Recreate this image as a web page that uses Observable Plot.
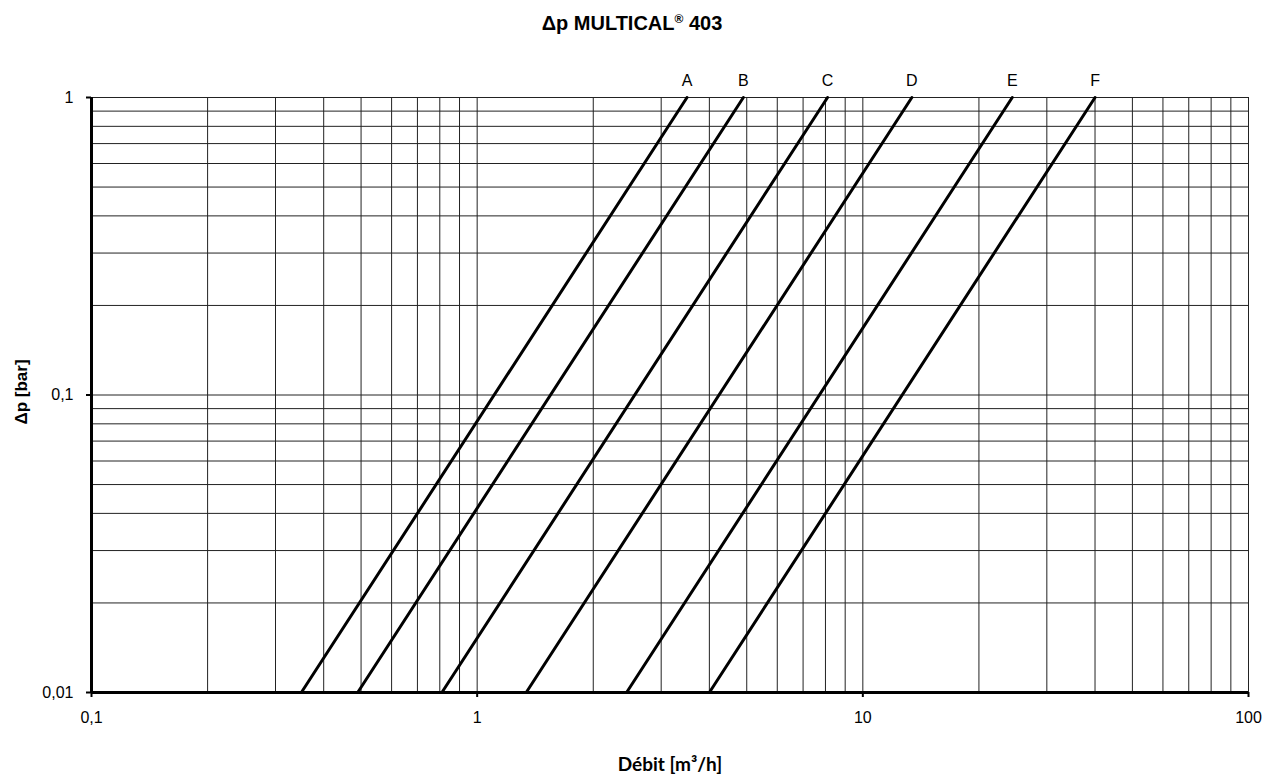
<!DOCTYPE html>
<html>
<head>
<meta charset="utf-8">
<script src="https://cdn.jsdelivr.net/npm/d3@7"></script>
<script src="https://cdn.jsdelivr.net/npm/@observablehq/plot@0.6"></script>
<style>
  html, body { margin: 0; padding: 0; background: #fff; }
  #title { width: 1264px; height: 50px; line-height: 46px; text-align: center;
           font-family: "Liberation Sans", Arial, sans-serif; font-weight: bold; font-size: 20px; color: #000; }
  #title sup { font-size: 12px; vertical-align: 7px; line-height: 0; }
  #chart svg { display: block; }
</style>
</head>
<body>
<div id="title">Δp MULTICAL<sup>®</sup> 403</div>
<div id="chart"></div>
<script>
// Curve names and flow (m³/h) read at 0,01 bar and at 1 bar
const curves = ["A", "B", "C", "D", "E", "F"];
const qLow  = [0.35, 0.49, 0.81, 1.34, 2.44, 4.0];
const qHigh = [3.5, 4.9, 8.1, 13.4, 24.4, 40];
const pLow = 0.01;
const pHigh = 1;

const xTicks = [0.1, 1, 10, 100];
const yTicks = [0.01, 0.1, 1];
const xGrid = [0.2, 0.3, 0.4, 0.5, 0.6, 0.7, 0.8, 0.9, 1, 2, 3, 4, 5, 6, 7, 8, 9, 10, 20, 30, 40, 50, 60, 70, 80, 90, 100];
const yGrid = [0.02, 0.03, 0.04, 0.05, 0.06, 0.07, 0.08, 0.09, 0.1, 0.2, 0.3, 0.4, 0.5, 0.6, 0.7, 0.8, 0.9, 1];

const xLabel = "Débit [m³/h]";
const yLabel = "Δp [bar]";

const lineData = curves.flatMap((c, i) => [
  {curve: c, q: qLow[i], p: pLow},
  {curve: c, q: qHigh[i], p: pHigh}
]);
const labelData = curves.map((c, i) => ({curve: c, q: qHigh[i], p: pHigh}));

const fmt = d => String(d).replace(".", ",");

const chart = Plot.plot({
  width: 1264,
  height: 724,
  marginLeft: 91,
  marginRight: 16,
  marginTop: 47,
  marginBottom: 82,
  style: {fontFamily: "'Liberation Sans', Arial, sans-serif", fontSize: "16px", color: "#000", background: "#fff"},
  x: {type: "log", domain: [0.1, 100]},
  y: {type: "log", domain: [0.01, 1]},
  marks: [
    Plot.ruleX(xGrid, {stroke: "#222", strokeWidth: 1}),
    Plot.ruleY(yGrid, {stroke: "#222", strokeWidth: 1}),
    Plot.line(lineData, {x: "q", y: "p", z: "curve", stroke: "#000", strokeWidth: 3}),
    Plot.ruleX([xTicks[0]], {stroke: "#000", strokeWidth: 3}),
    Plot.ruleY([yTicks[0]], {stroke: "#000", strokeWidth: 3}),
    Plot.axisX(xTicks, {tickFormat: fmt, tickSize: 5, tickPadding: 14, strokeWidth: 2, label: null, fontSize: 16}),
    Plot.axisY(yTicks, {tickFormat: fmt, tickSize: 5, tickPadding: 13, strokeWidth: 2, label: null, fontSize: 16}),
    Plot.text(labelData, {x: "q", y: "p", text: "curve", dy: -17, fontSize: 16, fill: "#000"}),
    Plot.text([xLabel], {frameAnchor: "bottom", textAnchor: "middle", lineAnchor: "middle", dy: 72, fontFamily: "Lato, 'Open Sans', sans-serif", fontWeight: "bold", fontSize: 19, fill: "#000"}),
    Plot.text([yLabel], {frameAnchor: "left", textAnchor: "middle", lineAnchor: "middle", dx: -70, dy: -3, rotate: -90, fontWeight: "bold", fontSize: 17, fill: "#000"})
  ]
});
document.getElementById("chart").appendChild(chart);
</script>
</body>
</html>
